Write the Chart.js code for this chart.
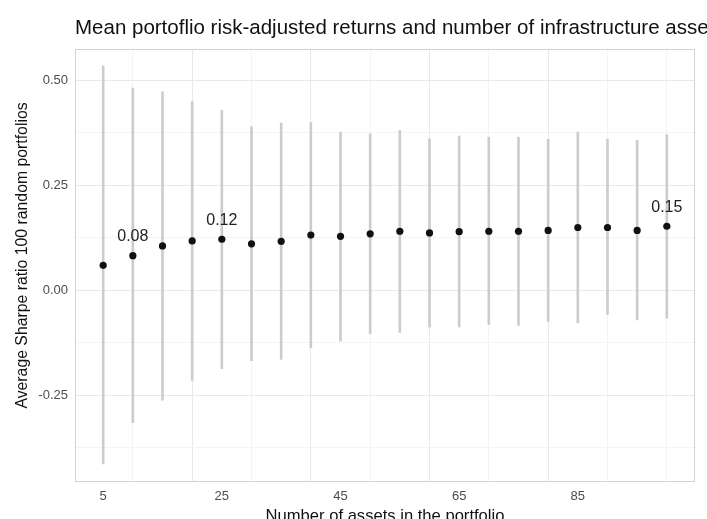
<!DOCTYPE html>
<html>
<head>
<meta charset="utf-8">
<title>Sharpe ratio by portfolio size</title>
<script src="https://cdn.jsdelivr.net/npm/chart.js@4.4.1/dist/chart.umd.min.js"></script>
<style>
  html, body { margin: 0; padding: 0; background: #fff; overflow: hidden; }
  #wrap { width: 707px; height: 519px; }
</style>
</head>
<body>
<div id="wrap"><canvas id="chart" width="707" height="519"></canvas></div>
<script>
// number of assets in each group of random portfolios
const assetCounts = [5, 10, 15, 20, 25, 30, 35, 40, 45, 50, 55, 60, 65, 70, 75, 80, 85, 90, 95, 100];
// mean Sharpe ratio across the 100 portfolios
const meanSharpe = [0.059, 0.082, 0.105, 0.117, 0.121, 0.110, 0.116, 0.131, 0.128, 0.134,
                    0.140, 0.136, 0.139, 0.140, 0.140, 0.142, 0.149, 0.149, 0.142, 0.152];
// range (min / max) of the Sharpe ratio
const lowSharpe  = [-0.414, -0.316, -0.262, -0.215, -0.187, -0.168, -0.165, -0.137, -0.121, -0.104,
                    -0.101, -0.088, -0.088, -0.082, -0.084, -0.075, -0.078, -0.058, -0.071, -0.067];
const highSharpe = [0.534, 0.481, 0.472, 0.449, 0.428, 0.389, 0.398, 0.399, 0.376, 0.372,
                    0.380, 0.360, 0.367, 0.364, 0.364, 0.359, 0.376, 0.359, 0.357, 0.370];
// points that get their mean printed above them
const labelledCounts = [10, 25, 100];

const xMajor = [5, 25, 45, 65, 85];
const xMinor = [15, 35, 55, 75, 95];
const yMajor = [-0.25, 0, 0.25, 0.5];
const yMinor = [-0.375, -0.125, 0.125, 0.375];

const titleText = 'Mean portoflio risk-adjusted returns and number of infrastructure assets';
const xTitle = 'Number of assets in the portfolio';
const yTitle = 'Average Sharpe ratio 100 random portfolios';
const FONT = "'Liberation Sans', Arial, sans-serif";

const meanPoints = assetCounts.map((n, i) => ({ x: n, y: meanSharpe[i] }));
const rangeBars = assetCounts.map((n, i) => ({ x: n, y: [lowSharpe[i], highSharpe[i]] }));

const gridColor = ctx => (ctx.tick && ctx.tick.major ? '#e9e9e9' : '#f4f4f4');

// panel frame, titles and value labels
const decorations = {
  id: 'decorations',
  afterDatasetsDraw(chart) {
    const { ctx, chartArea: a, scales: { x, y } } = chart;
    ctx.save();
    ctx.strokeStyle = '#d2d2d2';
    ctx.lineWidth = 1;
    ctx.strokeRect(a.left + 0.5, a.top + 0.5, a.right - a.left - 1, a.bottom - a.top - 1);

    ctx.fillStyle = '#222';
    ctx.font = '16px ' + FONT;
    ctx.textAlign = 'center';
    ctx.textBaseline = 'middle';
    labelledCounts.forEach(n => {
      const i = assetCounts.indexOf(n);
      ctx.fillText(meanSharpe[i].toFixed(2), x.getPixelForValue(n), y.getPixelForValue(meanSharpe[i]) - 19);
    });

    ctx.fillStyle = '#111';
    ctx.font = '16.6px ' + FONT;
    ctx.fillText(xTitle, (a.left + a.right) / 2, 516);

    ctx.save();
    ctx.translate(23, (a.top + a.bottom) / 2 - 10);
    ctx.rotate(-Math.PI / 2);
    ctx.font = '15.8px ' + FONT;
    ctx.fillText(yTitle, 0, 0);
    ctx.restore();

    ctx.font = '20.5px ' + FONT;
    ctx.textAlign = 'left';
    ctx.textBaseline = 'alphabetic';
    ctx.fillText(titleText, a.left, 34);
    ctx.restore();
  }
};

new Chart(document.getElementById('chart'), {
  type: 'scatter',
  data: {
    datasets: [
      {
        type: 'scatter',
        data: meanPoints,
        pointRadius: 3.6,
        pointBackgroundColor: '#111',
        pointBorderColor: '#111',
        pointBorderWidth: 0
      },
      {
        type: 'bar',
        data: rangeBars,
        backgroundColor: '#cccccc',
        borderWidth: 0,
        barThickness: 2,
        grouped: false
      }
    ]
  },
  options: {
    responsive: false,
    animation: false,
    layout: { padding: { top: 49, right: 12, left: 0, bottom: 0 } },
    plugins: { legend: { display: false }, tooltip: { enabled: false } },
    scales: {
      x: {
        type: 'linear',
        min: 0.25,
        max: 104.75,
        offset: false,
        afterFit: s => { s.height = 37; },
        afterBuildTicks: s => {
          s.ticks = xMajor.map(v => ({ value: v, major: true }))
            .concat(xMinor.map(v => ({ value: v, major: false })))
            .sort((a, b) => a.value - b.value);
        },
        grid: { color: gridColor, lineWidth: 1, drawTicks: false },
        border: { display: false },
        ticks: {
          autoSkip: false,
          maxRotation: 0,
          padding: 7,
          color: '#4d4d4d',
          font: { family: FONT, size: 13 },
          callback: v => (xMajor.includes(v) ? String(v) : '')
        }
      },
      y: {
        min: -0.457,
        max: 0.574,
        afterFit: s => { s.width = 75; },
        afterBuildTicks: s => {
          s.ticks = yMajor.map(v => ({ value: v, major: true }))
            .concat(yMinor.map(v => ({ value: v, major: false })))
            .sort((a, b) => a.value - b.value);
        },
        grid: { color: gridColor, lineWidth: 1, drawTicks: false },
        border: { display: false },
        ticks: {
          autoSkip: false,
          padding: 7,
          color: '#4d4d4d',
          font: { family: FONT, size: 13 },
          callback: v => (yMajor.includes(v) ? v.toFixed(2) : '')
        }
      }
    }
  },
  plugins: [decorations]
});
</script>
</body>
</html>
